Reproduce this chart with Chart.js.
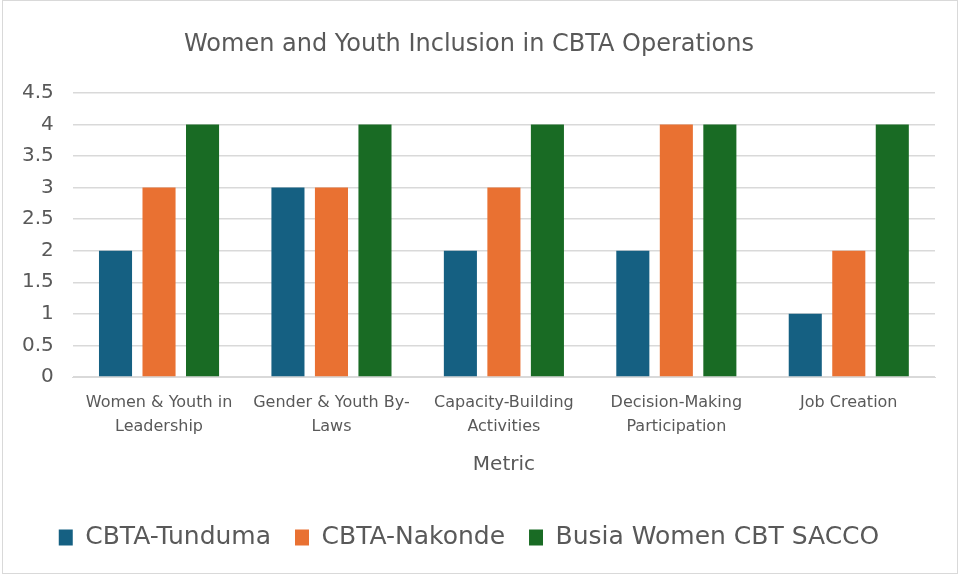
<!DOCTYPE html>
<html><head><meta charset="utf-8">
<script src="https://cdn.jsdelivr.net/npm/chart.js@4"></script>
<style>
html,body{margin:0;padding:0;background:#fff;}
#wrap{position:absolute;left:2px;top:0;width:956px;height:574px;border:1px solid #d9d9d9;box-sizing:border-box;}
canvas{display:block;}
</style></head><body>
<div id="wrap"><canvas id="c" width="954" height="572"></canvas></div>
<script>
const categories = [["Women & Youth in","Leadership"],["Gender & Youth By-","Laws"],["Capacity-Building","Activities"],["Decision-Making","Participation"],["Job Creation"]];
const seriesNames = ["CBTA-Tunduma","CBTA-Nakonde","Busia Women CBT SACCO"];
const tunduma = [2,3,2,2,1];
const nakonde = [3,3,3,4,2];
const busia = [4,4,4,4,4];
const colors = ["#156082","#E97132","#196B24"];
const font = "'DejaVu Sans', sans-serif";
new Chart(document.getElementById('c'),{
  type:'bar',
  data:{labels:categories,datasets:[
    {label:seriesNames[0],data:tunduma,backgroundColor:colors[0]},
    {label:seriesNames[1],data:nakonde,backgroundColor:colors[1]},
    {label:seriesNames[2],data:busia,backgroundColor:colors[2]}
  ].map(d=>Object.assign(d,{categoryPercentage:0.757,barPercentage:0.76}))},
  options:{
    responsive:false,animation:false,
    layout:{padding:{left:0,right:22,top:14,bottom:13}},
    plugins:{
      title:{display:true,text:"Women and Youth Inclusion in CBTA Operations",color:"#595959",font:{family:font,size:24,weight:'normal'},padding:{top:15,bottom:34}},
      legend:{position:'bottom',labels:{color:"#595959",font:{family:font,size:25},boxWidth:14,boxHeight:16,padding:24}},
      tooltip:{enabled:false}
    },
    scales:{
      x:{grid:{display:false},border:{color:"#d9d9d9"},ticks:{color:"#595959",font:{family:font,size:16,lineHeight:1.5},maxRotation:0,padding:6},
        title:{display:true,text:"Metric",color:"#595959",font:{family:font,size:20},padding:{top:8,bottom:24}}},
      y:{min:0,max:4.5,ticks:{stepSize:0.5,color:"#595959",font:{family:font,size:20},padding:19,callback:v=>String(v)},
        grid:{color:"#d9d9d9",lineWidth:1.5,drawTicks:false},border:{display:false}}
    }
  }
});
</script></body></html>
